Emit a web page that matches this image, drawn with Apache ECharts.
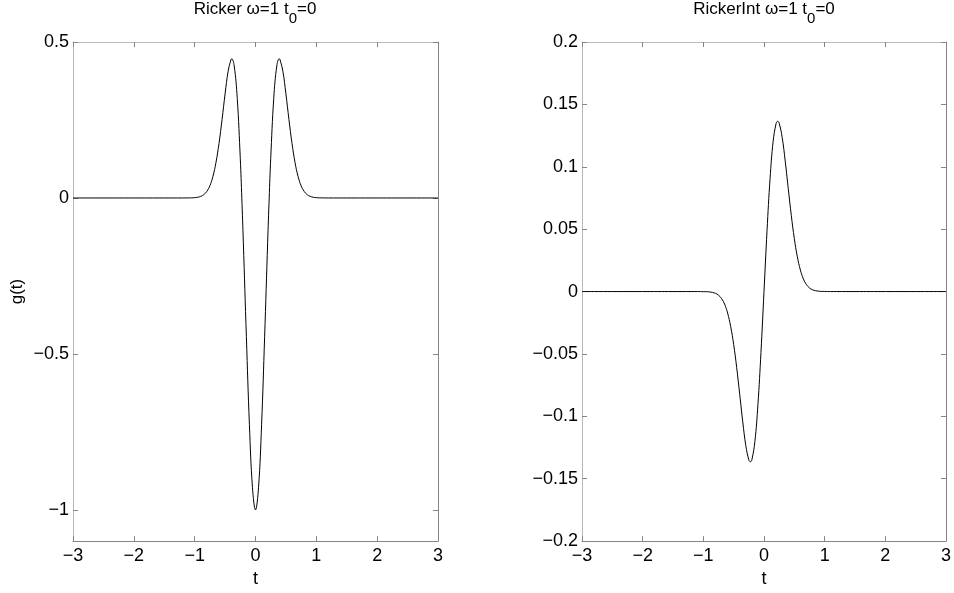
<!DOCTYPE html>
<html>
<head>
<meta charset="utf-8">
<script src="https://cdn.jsdelivr.net/npm/echarts@6/dist/echarts.min.js"></script>
<style>
html,body{margin:0;padding:0;background:#fff;}
#chart{width:954px;height:593px;}
</style>
</head>
<body>
<div id="chart"></div>
<script>
// time samples (t)
const tValues = [-3, -2, -1.5, -1.2,
  -1.1, -1.05, -1.0, -0.95, -0.9, -0.85, -0.8, -0.75, -0.7, -0.65, -0.6, -0.55, -0.5, -0.45, -0.4, -0.39, -0.35, -0.3, -0.25, -0.225, -0.2, -0.15, -0.1, -0.05,
  0,
  0.05, 0.1, 0.15, 0.2, 0.225, 0.25, 0.3, 0.35, 0.39, 0.4, 0.45, 0.5, 0.55, 0.6, 0.65, 0.7, 0.75, 0.8, 0.85, 0.9, 0.95, 1.0, 1.05, 1.1,
  1.2, 1.5, 2, 3];
// Ricker wavelet values
const rickerValues = [0, 0, 0, 0,
  0.0002, 0.0004, 0.0010, 0.0023, 0.0051, 0.0106, 0.0210, 0.0392, 0.0688, 0.1134, 0.1749, 0.2511, 0.3337, 0.4062, 0.4449, 0.4463, 0.4232, 0.3194, 0.1261, -0.0004, -0.1418, -0.4452, -0.7272, -0.9275,
  -1,
  -0.9275, -0.7272, -0.4452, -0.1418, -0.0004, 0.1261, 0.3194, 0.4232, 0.4463, 0.4449, 0.4062, 0.3337, 0.2511, 0.1749, 0.1134, 0.0688, 0.0392, 0.0210, 0.0106, 0.0051, 0.0023, 0.0010, 0.0004, 0.0002,
  0, 0, 0, 0];
// RickerInt values
const rickerIntValues = [0, 0, 0, 0,
  0, 0, -0.0001, -0.0001, -0.0003, -0.0007, -0.0014, -0.0029, -0.0056, -0.0100, -0.0172, -0.0278, -0.0424, -0.0610, -0.0825, -0.0869, -0.1045, -0.1234, -0.1349, -0.1365, -0.1348, -0.1201, -0.0906, -0.0488,
  0,
  0.0488, 0.0906, 0.1201, 0.1348, 0.1365, 0.1349, 0.1234, 0.1045, 0.0869, 0.0825, 0.0610, 0.0424, 0.0278, 0.0172, 0.0100, 0.0056, 0.0029, 0.0014, 0.0007, 0.0003, 0.0001, 0.0001, 0, 0,
  0, 0, 0, 0];
// tick values
const xTicks = [-3, -2, -1, 0, 1, 2, 3];
const leftYTicks = [-1, -0.5, 0, 0.5];
const rightYTicks = [-0.2, -0.15, -0.1, -0.05, 0, 0.05, 0.1, 0.15, 0.2];

const FONT = '"Liberation Sans", Arial, Helvetica, sans-serif';
const DARK = '#858585';
const LIGHT = '#b8b8b8';
const fmt = v => String(+v.toFixed(4)).replace('-', '\u2212');

function pairs(xs, ys) { return xs.map((x, i) => [x, ys[i]]); }

function xAxes(gi) {
  return [{
    type: 'value', gridIndex: gi, position: 'bottom', min: -3, max: 3,
    axisLine: {show: true, onZero: false, lineStyle: {color: DARK, width: 1}},
    axisTick: {show: true, inside: true, length: 5, customValues: xTicks, lineStyle: {color: DARK}},
    axisLabel: {show: true, customValues: xTicks, formatter: fmt, color: '#000', fontSize: 18, fontFamily: FONT, margin: 6},
    splitLine: {show: false},
    name: 't', nameLocation: 'middle', nameGap: 25,
    nameTextStyle: {color: '#000', fontSize: 18, fontFamily: FONT}
  }, {
    type: 'value', gridIndex: gi, position: 'top', min: -3, max: 3,
    axisLine: {show: true, onZero: false, lineStyle: {color: LIGHT, width: 1}},
    axisTick: {show: true, inside: true, length: 5, customValues: xTicks, lineStyle: {color: DARK}},
    axisLabel: {show: false},
    splitLine: {show: false}
  }];
}
function yAxes(gi, min, max, ticks, name) {
  return [{
    type: 'value', gridIndex: gi, position: 'left', min: min, max: max,
    axisLine: {show: true, onZero: false, lineStyle: {color: LIGHT, width: 1}},
    axisTick: {show: true, inside: true, length: 5, customValues: ticks, lineStyle: {color: DARK}},
    axisLabel: {show: true, customValues: ticks, formatter: fmt, color: '#000', fontSize: 18, fontFamily: FONT, margin: 4},
    splitLine: {show: false},
    name: name, nameLocation: 'middle', nameGap: 47, nameRotate: 90,
    nameTextStyle: {color: '#000', fontSize: 17, fontFamily: FONT}
  }, {
    type: 'value', gridIndex: gi, position: 'right', min: min, max: max,
    axisLine: {show: true, onZero: false, lineStyle: {color: DARK, width: 1}},
    axisTick: {show: true, inside: true, length: 5, customValues: ticks, lineStyle: {color: DARK}},
    axisLabel: {show: false},
    splitLine: {show: false}
  }];
}

const chart = echarts.init(document.getElementById('chart'), null, {renderer: 'canvas'});
const titleRich = {
  a: {fontSize: 17, fontFamily: FONT, color: '#000', lineHeight: 20, verticalAlign: 'top'},
  s: {fontSize: 15, fontFamily: FONT, color: '#000', lineHeight: 15, verticalAlign: 'top', padding: [10, 0, 0, 0]}
};
chart.setOption({
  animation: false,
  backgroundColor: '#fff',
  grid: [
    {left: 73, top: 42, width: 365, height: 503},
    {left: 582, top: 42, width: 365, height: 503}
  ],
  xAxis: [...xAxes(0), ...xAxes(1)],
  yAxis: [...yAxes(0, -1.1, 0.5, leftYTicks, 'g(t)'), ...yAxes(1, -0.2, 0.2, rightYTicks, '')],
  graphic: [
    {type: 'text', x: 255, y: 1, style: {text: '{a|Ricker \u03c9=1 t}{s|0}{a|=0}', rich: titleRich, align: 'center', verticalAlign: 'top'}},
    {type: 'text', x: 764, y: 1, style: {text: '{a|RickerInt \u03c9=1 t}{s|0}{a|=0}', rich: titleRich, align: 'center', verticalAlign: 'top'}}
  ],
  series: [
    {type: 'line', xAxisIndex: 0, yAxisIndex: 0, data: pairs(tValues, rickerValues), smooth: 0.4, symbol: 'none', lineStyle: {color: '#000', width: 1}},
    {type: 'line', xAxisIndex: 2, yAxisIndex: 2, data: pairs(tValues, rickerIntValues), smooth: 0.4, symbol: 'none', lineStyle: {color: '#000', width: 1}}
  ]
});
</script>
</body>
</html>
